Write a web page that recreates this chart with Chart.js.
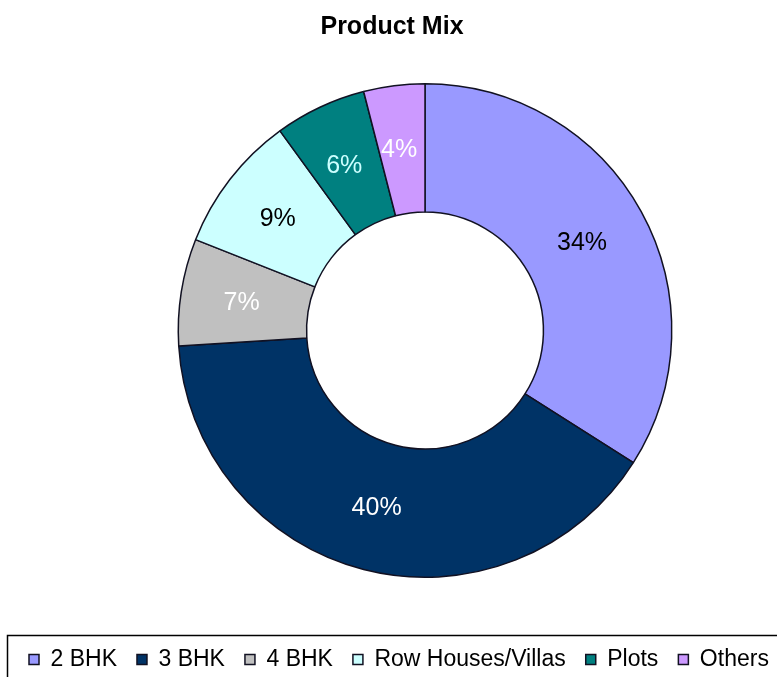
<!DOCTYPE html>
<html>
<head>
<meta charset="utf-8">
<script src="https://cdn.jsdelivr.net/npm/chart.js@4/dist/chart.umd.min.js"></script>
<style>
  html, body { margin: 0; padding: 0; background: #fff; overflow: hidden; }
  #wrap { position: relative; width: 850px; height: 677px; }
</style>
</head>
<body>
<div id="wrap"><canvas id="mixChart"></canvas></div>
<script>
// Datos del gráfico
const categories = ["2 BHK", "3 BHK", "4 BHK", "Row Houses/Villas", "Plots", "Others"];
const shares = [34, 40, 7, 9, 6, 4];
const sliceColors = ["#9999FF", "#003366", "#C0C0C0", "#CCFFFF", "#008080", "#CC99FF"];
const labelColors = ["#000000", "#FFFFFF", "#FFFFFF", "#000000", "#CCFFFF", "#FFFFFF"];

const FONT = "'Liberation Sans', Arial, sans-serif";

// Etiquetas de porcentaje en el centro de cada sector
const pctLabels = {
  id: "pctLabels",
  afterDatasetsDraw(chart) {
    const ctx = chart.ctx;
    const meta = chart.getDatasetMeta(0);
    ctx.save();
    ctx.font = "25px " + FONT;
    ctx.textAlign = "center";
    ctx.textBaseline = "middle";
    meta.data.forEach((arc, i) => {
      const p = arc.tooltipPosition();
      ctx.fillStyle = labelColors[i];
      ctx.fillText(shares[i] + "%", p.x - 3, p.y + 1);
    });
    ctx.restore();
  },
};

// Ajustar título y leyenda como en el original
const placeBoxes = {
  id: "placeBoxes",
  afterLayout(chart) {
    chart.titleBlock.left = 0;
    chart.titleBlock.right = 784;
    chart.legend.left = 9;
    chart.legend.top = 628;
    chart.legend.bottom = 681;
  },
  beforeDraw(chart) {
    const ctx = chart.ctx;
    ctx.save();
    ctx.fillStyle = "#fff";
    ctx.fillRect(0, 0, chart.width, chart.height);
    ctx.restore();
  },
  afterDraw(chart) {
    // marco de la leyenda
    const ctx = chart.ctx;
    ctx.save();
    ctx.strokeStyle = "#000";
    ctx.lineWidth = 1.5;
    ctx.strokeRect(7.5, 635.5, 900, 100);
    ctx.restore();
  },
};

const ctx = document.getElementById("mixChart").getContext("2d");
const mixChart = new Chart(ctx, {
  type: "doughnut",
  data: {
    labels: categories,
    datasets: [
      {
        data: shares,
        backgroundColor: sliceColors,
        borderColor: "#111122",
        borderWidth: 1.5,
      },
    ],
  },
  options: {
    responsive: true,
    maintainAspectRatio: false,
    animation: false,
    cutout: "48%",
    layout: { padding: { top: 0, bottom: 46, left: 0, right: 0 } },
    plugins: {
      title: {
        display: true,
        text: "Product Mix",
        color: "#000",
        font: { family: FONT, size: 25, weight: "bold" },
        padding: { top: 12, bottom: 41 },
      },
      legend: {
        position: "bottom",
        align: "start",
        labels: {
          color: "#000",
          font: { family: FONT, size: 23 },
          boxWidth: 10,
          boxHeight: 10,
          padding: 20,
        },
      },
      tooltip: { enabled: false },
    },
  },
  plugins: [pctLabels, placeBoxes],
});
</script>
</body>
</html>
